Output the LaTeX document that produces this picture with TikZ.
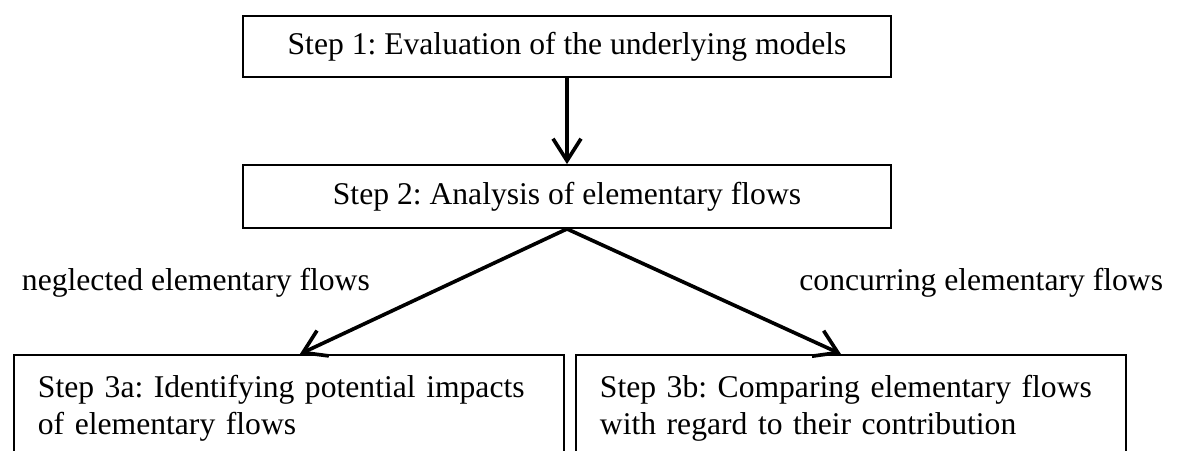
\documentclass[tikz,border=0pt]{standalone}
\usepackage{fontspec}
\setmainfont{Liberation Serif}
\usepackage{tikz}
\usetikzlibrary{arrows.meta}
\frenchspacing

\begin{document}
\begin{tikzpicture}[>={Straight Barb[length=0.55cm,width=0.7cm]},
  stepbox/.style={draw, line width=1.3pt, minimum width=16.2cm, font=\fontsize{22.5}{26.5}\selectfont},
  subbox/.style={draw, line width=1.3pt, anchor=north west, text width=12.55cm, align=left,
    inner xsep=0.6cm, inner ysep=0.5cm, text depth=2.5cm, font=\fontsize{22.5}{26.5}\selectfont},
  flowlabel/.style={font=\fontsize{22.5}{26.5}\selectfont},
  flowarrow/.style={->, line width=2.6pt}]
\useasboundingbox (0,0) rectangle (29.5,-11.25);
\clip (0,0) rectangle (29.5,-11.25);
\node[stepbox, minimum height=1.525cm] (s1) at (14.175,-1.1625) {Step 1: Evaluation of the underlying models};
\node[stepbox, minimum height=1.575cm] (s2) at (14.175,-4.9125) {Step 2: Analysis of elementary flows};
\node[subbox] (s3a) at (0.325,-8.85) {\mbox{Step 3a: Identifying potential impacts}\\\mbox{of elementary flows}};
\node[subbox] (s3b) at (14.375,-8.85) {\mbox{Step 3b: Comparing elementary flows}\\\mbox{with regard to their contribution}};
\node[flowlabel, anchor=base west] (neg) at (0.425,-7.25) {neglected elementary flows};
\node[flowlabel, anchor=base east] (conc) at (29.2,-7.25) {concurring elementary flows};
\draw[flowarrow] (s1.south) -- (s2.north);
\draw[flowarrow] (s2.south) -- ([xshift=0.275cm]s3a.north);
\draw[flowarrow] (s2.south) -- ([xshift=-0.25cm]s3b.north);
\end{tikzpicture}
\end{document}
